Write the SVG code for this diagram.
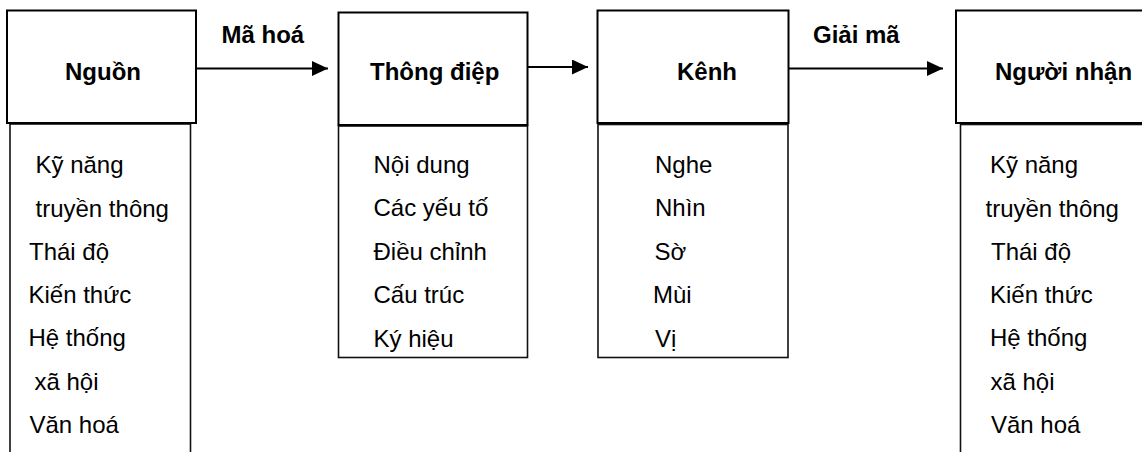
<svg xmlns="http://www.w3.org/2000/svg" width="1142" height="452" viewBox="0 0 1142 452">
  <style>
    .box { fill: #fff; stroke: #000; stroke-width: 2; }
    .list { fill: none; stroke: #111; stroke-width: 1.6; }
    .title { font-family: "Liberation Sans", Arial, sans-serif; font-size: 24px; font-weight: bold; fill: #000; }
    .item { font-family: "Liberation Sans", Arial, sans-serif; font-size: 24px; fill: #000; }
    .wire { stroke: #000; stroke-width: 2; fill: none; }
  </style>
  <defs>
    <marker id="head" viewBox="0 0 16 15" refX="16" refY="7.5" markerWidth="16" markerHeight="15" markerUnits="userSpaceOnUse" orient="auto">
      <path d="M0,0 L16,7.5 L0,15 Z" fill="#000"/>
    </marker>
  </defs>
  <rect width="1142" height="452" fill="#fff"/>

  <!-- Source -->
  <g id="nguon">
    <rect class="list" x="10" y="124" width="180.5" height="340"/>
    <rect class="box" x="7" y="10.5" width="189" height="112.5"/>
    <text class="title" x="65" y="80">Nguồn</text>
    <text class="item" x="35.5" y="173">Kỹ năng</text>
    <text class="item" x="35.5" y="216.5">truyền thông</text>
    <text class="item" x="29" y="259.5">Thái độ</text>
    <text class="item" x="28.5" y="303">Kiến thức</text>
    <text class="item" x="28.5" y="346">Hệ thống</text>
    <text class="item" x="34.5" y="389.5">xã hội</text>
    <text class="item" x="29.5" y="433">Văn hoá</text>
  </g>

  <!-- Message -->
  <g id="thong-diep">
    <rect class="list" x="338.5" y="126" width="189" height="231.5"/>
    <rect class="box" x="338.5" y="12.5" width="189" height="112.5"/>
    <text class="title" x="370" y="80">Thông điệp</text>
    <text class="item" x="373.5" y="172.5">Nội dung</text>
    <text class="item" x="373.5" y="216">Các yếu tố</text>
    <text class="item" x="373.5" y="259.5">Điều chỉnh</text>
    <text class="item" x="373.5" y="303">Cấu trúc</text>
    <text class="item" x="373.5" y="346.5">Ký hiệu</text>
  </g>

  <!-- Channel -->
  <g id="kenh">
    <rect class="list" x="598" y="124.5" width="190" height="233"/>
    <rect class="box" x="597.5" y="10.5" width="191" height="112.5"/>
    <text class="title" x="677" y="80">Kênh</text>
    <text class="item" x="655" y="172.5">Nghe</text>
    <text class="item" x="655" y="216">Nhìn</text>
    <text class="item" x="654.5" y="259.5">Sờ</text>
    <text class="item" x="653" y="303">Mùi</text>
    <text class="item" x="655" y="346.5">Vị</text>
  </g>

  <!-- Receiver -->
  <g id="nguoi-nhan">
    <rect class="list" x="960.5" y="124.5" width="200" height="340"/>
    <rect class="box" x="956" y="10.5" width="200" height="112.5"/>
    <text class="title" x="995" y="80">Người nhận</text>
    <text class="item" x="990" y="173">Kỹ năng</text>
    <text class="item" x="985.5" y="216.5">truyền thông</text>
    <text class="item" x="991" y="259.5">Thái độ</text>
    <text class="item" x="990" y="303">Kiến thức</text>
    <text class="item" x="990" y="346">Hệ thống</text>
    <text class="item" x="990.5" y="389.5">xã hội</text>
    <text class="item" x="991" y="433">Văn hoá</text>
  </g>

  <!-- Connectors -->
  <g id="connectors">
    <line class="wire" x1="196" y1="68.5" x2="328" y2="68.5" marker-end="url(#head)"/>
    <line class="wire" x1="527.5" y1="67" x2="588" y2="67" marker-end="url(#head)"/>
    <line class="wire" x1="788.5" y1="68.5" x2="943" y2="68.5" marker-end="url(#head)"/>
    <text class="title" x="221.5" y="43">Mã hoá</text>
    <text class="title" x="813" y="43">Giải mã</text>
  </g>
</svg>
